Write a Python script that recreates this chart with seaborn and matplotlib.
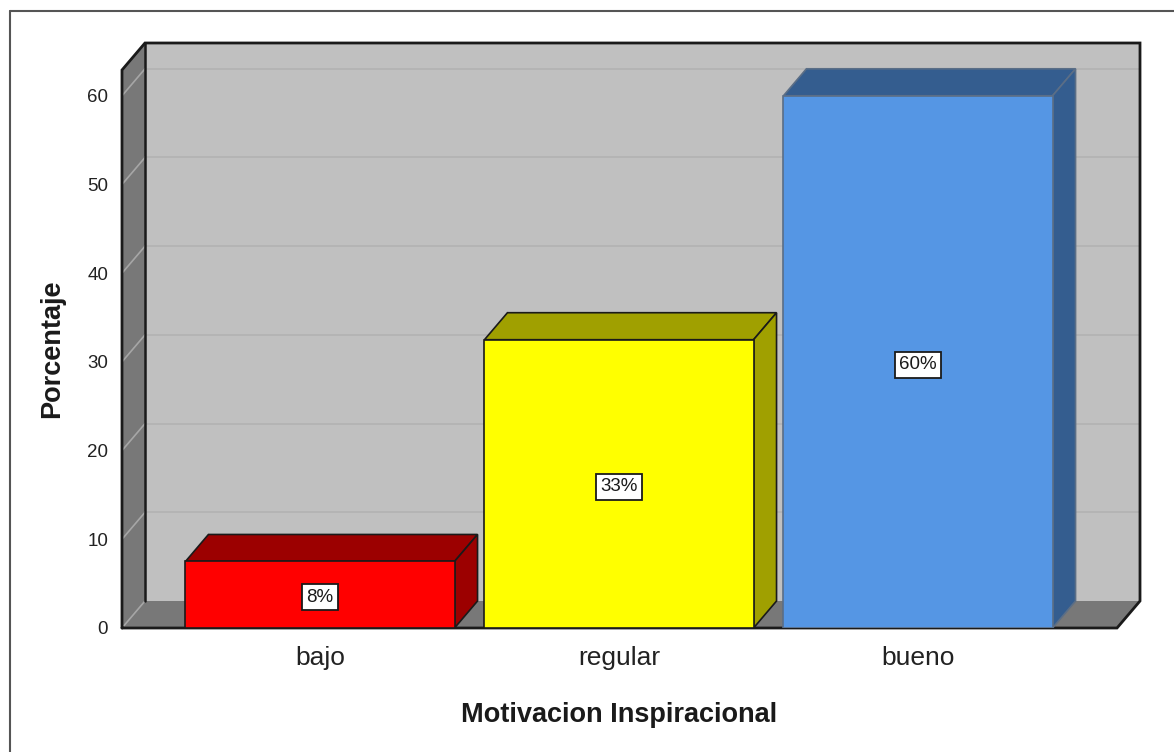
import math
import matplotlib
matplotlib.use("Agg")
import matplotlib.pyplot as plt
from matplotlib.patches import Polygon
from matplotlib.lines import Line2D
import seaborn as sns
import pandas as pd

# Data
categories = ["bajo", "regular", "bueno"]
percentages = [7.5, 32.5, 60.0]
y_ticks = [0, 10, 20, 30, 40, 50, 60]

# Bar styling (front face, shaded top/side, outline)
front_colors = ["#ff0000", "#ffff00", "#5596e4"]
shade_colors = ["#9c0000", "#a0a000", "#345d8f"]
edge_colors = ["#1a1a1a", "#1a1a1a", "#5b6e86"]

sns.set_style("white")
plt.rcParams["font.family"] = ["Liberation Sans", "DejaVu Sans"]

W, H = 1174, 752
fig = plt.figure(figsize=(W / 100, H / 100), dpi=100)
ax = fig.add_axes([122 / W, 1 - 628 / H, 1018 / W, 585 / H])

df = pd.DataFrame({"cat": categories, "pct": percentages})
sns.barplot(data=df, x="cat", y="pct", hue="cat", palette=front_colors,
            saturation=1, width=0.9, legend=False, ax=ax, zorder=4)
bars = list(ax.patches)

# Box extents and depth offset of the 3D effect
XMIN, XMAX = -0.6622, 2.7425
YMIN, YMAX = 0.0, 65.95
DX, DY = 0.0769, 3.044
ax.set_xlim(XMIN, XMAX)
ax.set_ylim(YMIN, YMAX)

wall = "#c0c0c0"
side = "#787878"
# back wall, left wall and floor
ax.add_patch(Polygon([(XMIN + DX, DY), (XMAX, DY), (XMAX, YMAX), (XMIN + DX, YMAX)],
                     closed=True, fc=wall, ec="none", zorder=0))
ax.add_patch(Polygon([(XMIN, 0), (XMIN + DX, DY), (XMIN + DX, YMAX), (XMIN, YMAX - DY)],
                     closed=True, fc=side, ec="none", zorder=0, clip_on=False))
ax.add_patch(Polygon([(XMIN, 0), (XMAX - DX, 0), (XMAX, DY), (XMIN + DX, DY)],
                     closed=True, fc=side, ec="none", zorder=0, clip_on=False))

# gridlines on the back wall and across the left wall
for v in y_ticks:
    if v > 0:
        ax.plot([XMIN + DX, XMAX], [v + DY, v + DY], color="#b3b3b3", lw=1.3, zorder=1)
    ax.plot([XMIN, XMIN + DX], [v, v + DY], color="#a6a6a6", lw=1.2, zorder=1,
            clip_on=False)

# box outline
outline_x = [XMIN, XMIN, XMIN + DX, XMAX, XMAX, XMAX - DX, XMIN]
outline_y = [0, YMAX - DY, YMAX, YMAX, DY, 0, 0]
ax.plot(outline_x, outline_y, color="#1a1a1a", lw=2.0, zorder=2, clip_on=False,
        solid_joinstyle="miter")
ax.plot([XMIN + DX, XMIN + DX], [DY, YMAX], color="#1a1a1a", lw=1.8, zorder=2)

# 3D faces and value labels on each bar
for bar, shade, edge, v in zip(bars, shade_colors, edge_colors, percentages):
    x0, w, h = bar.get_x(), bar.get_width(), bar.get_height()
    bar.set_edgecolor(edge)
    bar.set_linewidth(1.2)
    top = [(x0, h), (x0 + DX, h + DY), (x0 + w + DX, h + DY), (x0 + w, h)]
    right = [(x0 + w, 0), (x0 + w + DX, DY), (x0 + w + DX, h + DY), (x0 + w, h)]
    for poly in (top, right):
        ax.add_patch(Polygon(poly, closed=True, fc=shade, ec=edge, lw=1.2,
                             zorder=3, joinstyle="miter"))
    label = f"{math.floor(v + 0.5)}%"
    ax.text(x0 + w / 2, h / 2 - 0.3, label, ha="center", va="center", fontsize=13.5,
            color="#1a1a1a", zorder=6,
            bbox=dict(boxstyle="square,pad=0.24", fc="white", ec="#1a1a1a", lw=1.3))

for s in ax.spines.values():
    s.set_visible(False)

ax.set_yticks(y_ticks)
ax.set_yticklabels([str(t) for t in y_ticks])
ax.tick_params(axis="y", length=0, pad=10, labelsize=13.5, labelcolor="#222222")
ax.tick_params(axis="x", length=0, pad=13, labelsize=19, labelcolor="#222222")

ax.set_xlabel("Motivacion Inspiracional", fontsize=19.5, fontweight="bold",
              color="#1a1a1a")
ax.set_ylabel("Porcentaje", fontsize=19.5, fontweight="bold", color="#1a1a1a")
ax.xaxis.set_label_coords((619 - 122) / 1018, (628 - 715) / 585)
ax.xaxis.label.set_verticalalignment("center")
ax.yaxis.set_label_coords((52 - 122) / 1018, (628 - 349) / 585)
ax.yaxis.label.set_verticalalignment("center")
ax.yaxis.label.set_horizontalalignment("center")

# outer frame (left and top edges)
fig.add_artist(Line2D([10 / W, 10 / W], [0, 1 - 11 / H], transform=fig.transFigure,
                      color="#555555", lw=1.5))
fig.add_artist(Line2D([10 / W, 1], [1 - 11 / H, 1 - 11 / H], transform=fig.transFigure,
                      color="#555555", lw=1.5))

fig.savefig("out.png", dpi=100, facecolor="white")
